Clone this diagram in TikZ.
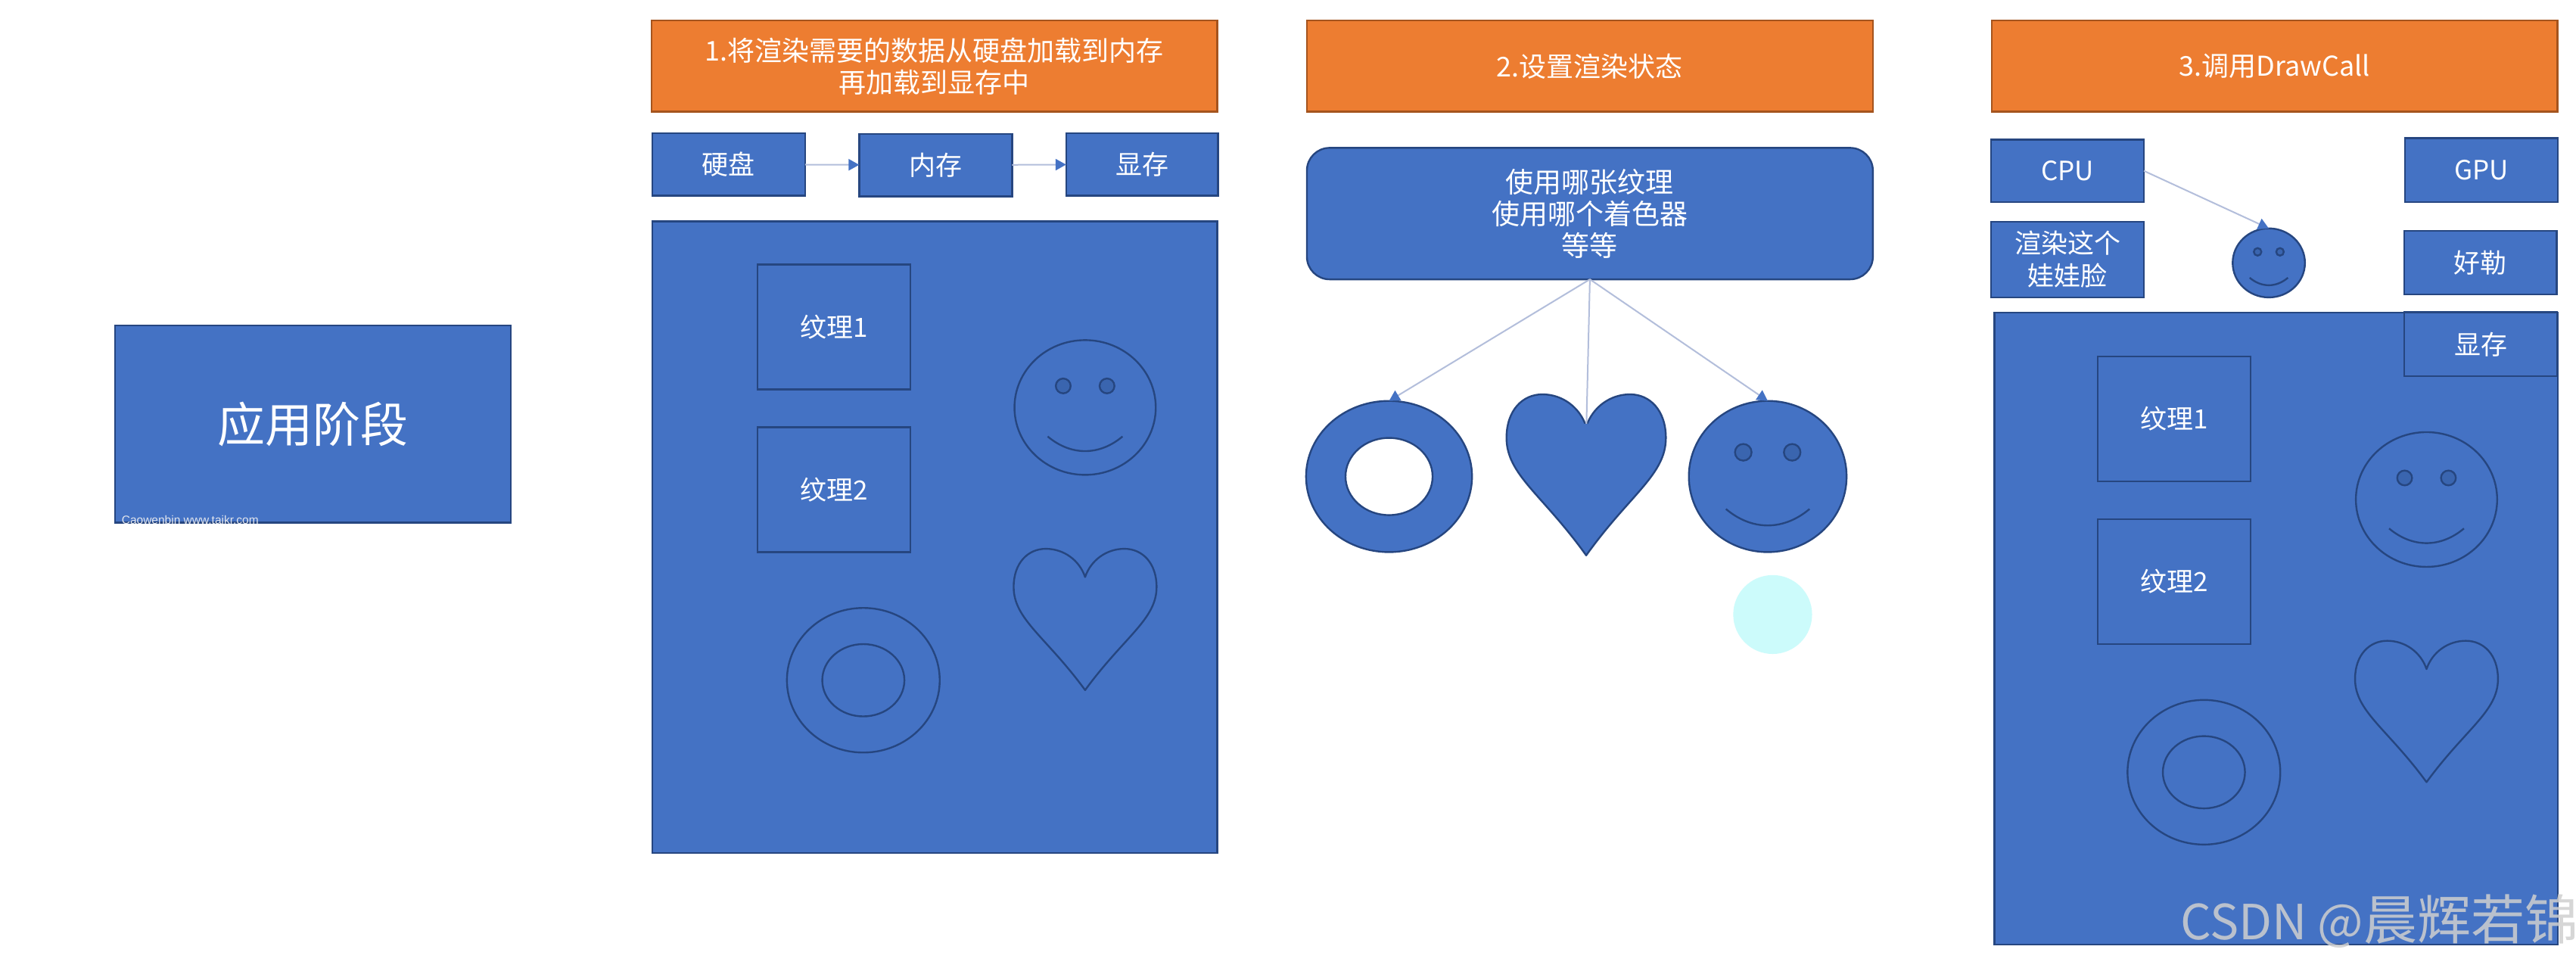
\documentclass[tikz,border=0pt]{standalone}
\usepackage{fontspec}
\setmainfont{Noto Sans CJK SC}
\setsansfont{Liberation Sans}
\usetikzlibrary{arrows.meta,shapes.geometric}
\definecolor{bfill}{HTML}{4472C4}
\definecolor{bline}{HTML}{264680}
\definecolor{ofill}{HTML}{ED7D31}
\definecolor{oline}{HTML}{A5541E}
\definecolor{eye}{HTML}{3A65AF}
\definecolor{conn}{HTML}{B3BEDB}
\definecolor{blob}{HTML}{CCFBFB}
\def\uu{2.171pt}
\newcommand\fs[2]{\fontsize{#1}{#2}\selectfont}
\tikzset{
  bluebox/.style={draw=bline,fill=bfill,line width=2.4pt,text=white,align=center,inner sep=0pt,outer sep=0pt},
  titlebox/.style={draw=oline,fill=ofill,line width=2.4pt,text=white,align=center,inner sep=0pt,outer sep=0pt,
    minimum width=344.5*\uu,minimum height=55.5*\uu,font=\fs{36}{42}},
  smallbox/.style={bluebox,minimum width=93*\uu,minimum height=38*\uu,font=\fs{35}{43}},
  texbox/.style={bluebox,minimum width=93*\uu,minimum height=76*\uu,font=\fs{35}{43}},
  panel/.style={bluebox,minimum width=344*\uu,minimum height=384.5*\uu},
  oval/.style={ellipse,draw=bline,fill=bfill,line width=2.4pt,inner sep=0pt,outer sep=0pt},
  shapeline/.style={draw=bline,fill=bfill,line width=2.4pt,line join=round},
  conarrow/.style={draw=conn,line width=2pt,-{Triangle[length=14pt,width=15pt,fill=bfill,color=bfill]}},
}
\newcommand\smiley[5]{%
  \node[oval,minimum width=2*#4*\uu,minimum height=2*#5*\uu] (#1) at (#2,#3) {};
  \begin{scope}[shift={(#2,#3)},x=#4*\uu,y=-#5*\uu]
    \draw[draw=bline,fill=eye,line width=2.4pt] (-.31,-.32) ellipse [x radius=.105,y radius=.11];
    \draw[draw=bline,fill=eye,line width=2.4pt] (.31,-.32) ellipse [x radius=.105,y radius=.11];
    \draw[draw=bline,line width=2.4pt] (-.53,.43) .. controls (-.2,.72) and (.2,.72) .. (.53,.43);
  \end{scope}}
\newcommand\hearts[6]{%
  \begin{scope}[shift={(#2,#3)},x=#4/2*\uu,y=-#5*\uu]
    \draw[shapeline] (0,1) .. controls (-.55,.62) and (-1,.5) .. (-1,.27)
      .. controls (-1,.1) and (-.8,0) .. (-.55,0)
      .. controls (-.3,0) and (-.08,.08) .. (0,.2)
      .. controls (.08,.08) and (.3,0) .. (.55,0)
      .. controls (.8,0) and (1,.1) .. (1,.27)
      .. controls (1,.5) and (.55,.62) .. (0,1) -- cycle;
    \coordinate (#1) at (0,#6);
  \end{scope}}
\begin{document}
\begin{tikzpicture}[x=\uu,y=-\uu]
\clip (0,0) rectangle (1568,587.3);
\fill[white] (0,0) rectangle (1568,587.3);

% stage box
\node[bluebox,minimum width=241*\uu,minimum height=120*\uu,font=\fs{63}{70}] (stage) at (190.5,258) {应用阶段};
\node[anchor=base west,inner sep=0pt,text=white!86!bline,font=\sffamily\fs{15.5}{18}] (mark) at (74,319) {Caowenbin www.taikr.com};

% panel 1
\node[titlebox] (t1) at (568.75,40.25) {1.将渲染需要的数据从硬盘加载到内存\\再加载到显存中};
\node[smallbox] (disk) at (443.5,100) {硬盘};
\node[smallbox] (ram) at (569.5,100.5) {内存};
\node[smallbox,minimum width=92.5*\uu] (vram) at (695.2,100) {显存};
\node[panel] (p1) at (569,327) {};
\node[texbox] (a1) at (507.5,199) {纹理1};
\node[texbox] (a2) at (507.5,298) {纹理2};
\smiley{sa}{660.5}{248}{43}{41}
\hearts{ha}{660.5}{334}{87}{86}{.2}
\node[oval,minimum width=93*\uu,minimum height=88*\uu] (da) at (525.5,414) {};
\node[oval,minimum width=50*\uu,minimum height=44*\uu] (dai) at (525.5,414) {};
\draw[conarrow] (disk) -- (ram);
\draw[conarrow] (ram) -- (vram);

% panel 2
\node[titlebox] (t2) at (967.75,40.25) {2.设置渲染状态};
\node[bluebox,rounded corners=30pt,minimum width=344.5*\uu,minimum height=80*\uu,font=\fs{37}{42}] (state) at (967.75,130) {使用哪张纹理\\使用哪个着色器\\等等};
\node[oval,minimum width=101*\uu,minimum height=92*\uu] (db) at (845.5,290) {};
\node[oval,fill=white,minimum width=53*\uu,minimum height=47*\uu] (dbi) at (845.5,290) {};
\hearts{hb}{965.5}{240}{97}{98}{.25}
\smiley{sb}{1076}{290}{48}{46}
\node[circle,fill=blob,minimum size=48*\uu,inner sep=0pt] (spot) at (1079,374) {};
\draw[conarrow] (state.south) -- (db.north);
\draw[conarrow] (state.south) -- (hb);
\draw[conarrow] (state.south) -- (sb.north);

% panel 3
\node[titlebox] (t3) at (1384.5,40.25) {3.调用DrawCall};
\node[smallbox] (cpu) at (1258.5,104) {CPU};
\node[smallbox,minimum height=46*\uu] (face) at (1258.5,158) {渲染这个\\娃娃脸};
\node[smallbox,minimum height=39*\uu] (gpu) at (1510.5,103.5) {GPU};
\node[smallbox,minimum height=38.5*\uu] (ok) at (1509.8,159.8) {好勒};
\node[panel,minimum width=343*\uu] (p3) at (1385.5,382.5) {};
\node[smallbox,minimum height=39*\uu] (vr3) at (1510,209.5) {显存};
\node[texbox] (b1) at (1323.5,255) {纹理1};
\node[texbox] (b2) at (1323.5,354) {纹理2};
\smiley{sc}{1477}{304}{43}{41}
\hearts{hc}{1477}{390}{87}{86}{.2}
\node[oval,minimum width=93*\uu,minimum height=88*\uu] (dc) at (1341.5,470) {};
\node[oval,minimum width=50*\uu,minimum height=44*\uu] (dci) at (1341.5,470) {};
\smiley{sd}{1381}{160}{22}{21}
\draw[conarrow] (cpu.east) -- (sd.north);

% site watermark
\node[anchor=base west,inner sep=0pt,text=black!19,text opacity=.85] (wm) at (1327,572) {\fs{64}{70}CSDN @\fs{71}{70}晨辉若锦};
\end{tikzpicture}
\end{document}
